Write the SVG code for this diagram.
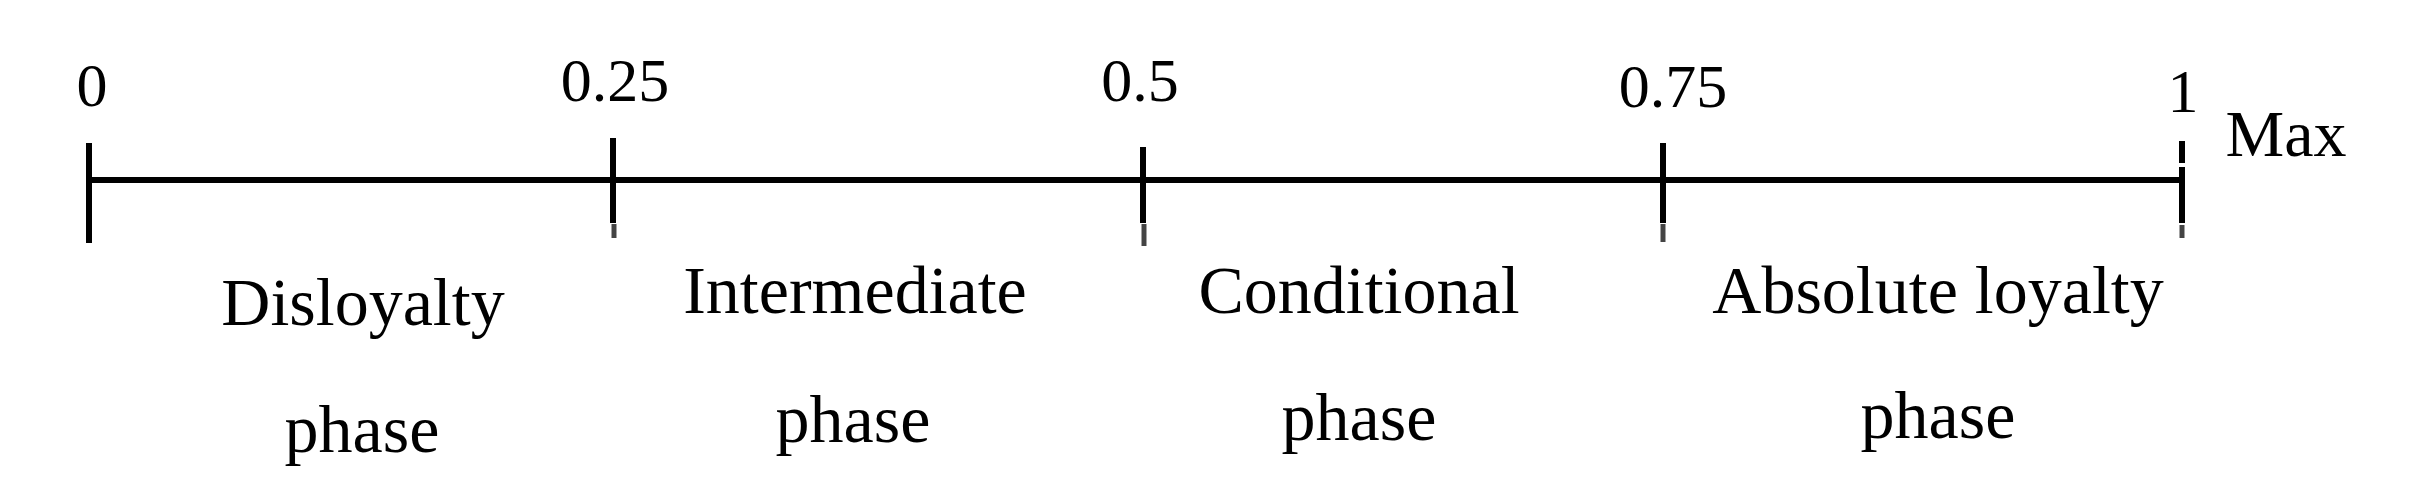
<svg xmlns="http://www.w3.org/2000/svg" width="2409" height="483" viewBox="0 0 2409 483">
<style>
.ln{stroke:#000;stroke-width:6;fill:none}
.fd{stroke:#444;stroke-width:5;fill:none}
.num{font-family:"Liberation Serif","Times New Roman",serif;font-size:62px;fill:#000;text-anchor:middle}
.lbl{font-family:"Liberation Serif","Times New Roman",serif;font-size:68px;fill:#000;text-anchor:middle}
</style>
<rect width="2409" height="483" fill="#fff"/>
<g id="axis">
<line class="ln" x1="89" y1="180" x2="2182" y2="180"/>
</g>
<g id="connectors">
<line class="ln" x1="89" y1="143" x2="89" y2="243"/>
<line class="ln" x1="613" y1="138" x2="613" y2="223"/>
<line class="fd" x1="614" y1="224" x2="614" y2="238"/>
<line class="ln" x1="1143" y1="147" x2="1143" y2="223"/>
<line class="fd" x1="1144" y1="224" x2="1144" y2="246"/>
<line class="ln" x1="1663" y1="143" x2="1663" y2="223"/>
<line class="fd" x1="1663" y1="224" x2="1663" y2="242"/>
<line class="ln" x1="2182" y1="141" x2="2182" y2="163"/>
<line class="ln" x1="2182" y1="167" x2="2182" y2="223"/>
<line class="fd" x1="2182" y1="225" x2="2182" y2="238"/>
</g>
<g id="tick-labels">
<text class="num" x="92" y="106">0</text>
<text class="num" x="615" y="101">0.25</text>
<text class="num" x="1140" y="101">0.5</text>
<text class="num" x="1673" y="107">0.75</text>
<text class="num" x="2183" y="112">1</text>
<text class="num" x="2286" y="156" style="font-size:66px">Max</text>
</g>
<g id="phase-disloyalty">
<text class="lbl" x="363" y="325">Disloyalty</text>
<text class="lbl" x="362" y="452">phase</text>
</g>
<g id="phase-intermediate">
<text class="lbl" x="855" y="313">Intermediate</text>
<text class="lbl" x="853" y="442">phase</text>
</g>
<g id="phase-conditional">
<text class="lbl" x="1359" y="313">Conditional</text>
<text class="lbl" x="1359" y="440">phase</text>
</g>
<g id="phase-absolute">
<text class="lbl" x="1938" y="313">Absolute loyalty</text>
<text class="lbl" x="1938" y="438">phase</text>
</g>
</svg>
